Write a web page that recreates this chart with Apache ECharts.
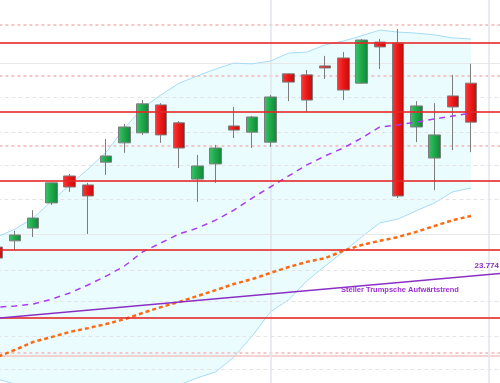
<!DOCTYPE html>
<html>
<head>
<meta charset="utf-8">
<script src="https://cdn.jsdelivr.net/npm/echarts@6/dist/echarts.min.js"></script>
<style>html,body{margin:0;padding:0;background:#fff;}#c{width:500px;height:383px;}</style>
</head>
<body>
<div id="c"></div>
<script>
// categories (j=0 lead-in day, 1..27 candles, 28..29 future)
var cats = [];
for (var k = 0; k < 30; k++) cats.push('T' + k);

// candles (index 1..27)
var opens  = ['-',23849,23867,23904,23977,24055,24029,24095,24151,24180,24261,24209,24046,24090,24200,24182,24153,24351,24348,24374,24397,24324,24443,24440,24197,24107,24287,24324,'-','-'];
var closes = ['-',23817,23884,23933,24035,24023,23997,24113,24197,24264,24174,24136,24084,24136,24188,24226,24284,24327,24275,24368,24304,24449,24429,23997,24258,24174,24255,24211,'-','-'];
var highs  = ['-',23860,23896,23956,24036,24061,24035,24162,24206,24275,24266,24214,24116,24145,24255,24229,24290,24353,24362,24403,24414,24452,24452,24481,24272,24266,24348,24380,'-','-'];
var lows   = ['-',23805,23840,23878,23971,24009,23887,24058,24122,24174,24151,24078,23980,24035,24165,24136,24139,24272,24240,24336,24275,24322,24365,23991,24153,24014,24130,24124,'-','-'];

// Bollinger bands and moving averages
var bbUpper = [23861,23878,23901,23933,23982,24029,24075,24124,24194,24252,24290,24324,24345,24365,24382,24380,24388,24411,24414,24435,24446,24461,24478,24472,24469,24464,24455,24452,'-','-'];
var bbMid   = [23667,23675,23678,23684,23698,23716,23739,23765,23794,23835,23861,23887,23904,23927,23956,23991,24023,24055,24087,24113,24136,24165,24197,24203,24211,24220,24229,24237,'-','-'];
var bbLower = [23472,23467,23452,23435,23417,23406,23403,23403,23397,23414,23432,23449,23470,23487,23530,23591,23661,23696,23751,23794,23835,23878,23919,23930,23954,23977,24009,24020,'-','-'];
var ma50    = [23513,23530,23551,23574,23588,23603,23614,23626,23640,23658,23675,23690,23707,23724,23742,23756,23774,23791,23806,23817,23838,23855,23867,23878,23893,23910,23927,23939,'-','-'];

// horizontal levels
var redLevels   = [24442,24241,24041,23840,23643];
var pinkDashed  = [24493,24345,24142,23543];
var pinkSolid   = [23533];
var grayLevels  = [24382,24283,24182,24087,23987,23887,23783,23691,23591,23495];
var graySolid   = [24382,23887];
var vLines      = [16,28];

// trend line
var trendStartIdx = 0, trendStartVal = 23638;
var trendEndIdx = 29, trendEndVal = 23774;
var trendName = 'Steiler Trumpsche Aufwärtstrend';
var trendValueLabel = '23.774';

var chart = echarts.init(document.getElementById('c'), null, {renderer:'canvas'});

var candleData = cats.map(function(c,i){
  if (opens[i] === '-') return '-';
  return [opens[i], closes[i], lows[i], highs[i]];
});
var bandDiff = cats.map(function(c,i){
  if (bbUpper[i] === '-') return '-';
  return bbUpper[i] - bbLower[i];
});

var backLines = [];
grayLevels.forEach(function(v){
  var solid = graySolid.indexOf(v) >= 0;
  backLines.push({yAxis: v, lineStyle:{color: solid ? '#e8e8e8' : '#e4e4e8', width:1, type: solid ? 'solid':[4,3]}});
});
pinkDashed.forEach(function(v){
  backLines.push({yAxis: v, lineStyle:{color:'#f5b5b5', width:1.5, type:[3,3]}});
});
pinkSolid.forEach(function(v){
  backLines.push({yAxis: v, lineStyle:{color:'#f3c4c4', width:1.5, type:'solid'}});
});
vLines.forEach(function(ix){
  backLines.push({xAxis: cats[ix], lineStyle:{color:'#e2e4ec', width:1.5, type:'solid'}});
});

var frontLines = [];
redLevels.forEach(function(v){
  frontLines.push({yAxis: v, lineStyle:{color:'rgba(230,40,40,0.8)', width:2, type:'solid'}});
});
frontLines.push([
  {coord:[cats[trendStartIdx], trendStartVal], lineStyle:{color:'#8a2fc4', width:1.5, type:'solid'}},
  {coord:[cats[trendEndIdx], trendEndVal]}
]);

var greenGrad = new echarts.graphic.LinearGradient(0,0,1,0,[{offset:0,color:'#3cc46a'},{offset:0.5,color:'#1fa84a'},{offset:1,color:'#10853a'}]);
var redGrad = new echarts.graphic.LinearGradient(0,0,1,0,[{offset:0,color:'#ff3a3a'},{offset:0.5,color:'#e81818'},{offset:1,color:'#c40a0a'}]);

var option = {
  animation: false,
  backgroundColor: '#ffffff',
  grid: {left: -30.6, right: -16.6, top: 0, bottom: 0, containLabel: false, outerBoundsMode: 'none'},
  xAxis: {type:'category', data: cats, boundaryGap: true, show: false},
  yAxis: {type:'value', min: 23455, max: 24565, show: false, splitLine:{show:false}},
  series: [
    {name:'bbLowerBase', type:'line', data: bbLower, stack:'bb', symbol:'none', z:1,
     lineStyle:{color:'#a6dcf6', width:1}},
    {name:'bbFill', type:'line', data: bandDiff, stack:'bb', symbol:'none', z:1,
     lineStyle:{width:0, opacity:0}, areaStyle:{color:'#ebfcff', opacity:1}},
    {name:'bbUpper', type:'line', data: bbUpper, symbol:'none', z:2,
     lineStyle:{color:'#a6dcf6', width:1},
     markLine:{silent:true, z:2, symbol:['none','none'], label:{show:false}, data: backLines}},
    {name:'Kurs', type:'candlestick', data: candleData, barWidth: 12, z:4,
     itemStyle:{color: greenGrad, color0: redGrad, borderColor:'#7d7d7d', borderColor0:'#7d7d7d', borderWidth:1}},
    {name:'bbMid', type:'line', data: bbMid, symbol:'none', z:6,
     lineStyle:{color:'#a93df0', width:1.5, type:[6,5]}},
    {name:'ma50', type:'line', data: ma50, symbol:'none', z:6,
     lineStyle:{color:'#ff6a10', width:2.5, type:[4,3]}},
    {name:'levels', type:'line', data: cats.map(function(){return '-';}), symbol:'none', z:8,
     markLine:{silent:true, z:8, symbol:['none','none'], label:{show:false}, data: frontLines}}
  ],
  graphic: [
    {type:'text', right: 1, top: 262, z: 10, style:{text: trendValueLabel, fill:'#8a2fc4', font:'bold 8px "Liberation Sans", Arial, sans-serif'}},
    {type:'text', left: 341, top: 286, z: 10, style:{text: trendName, fill:'#9a30d0', font:'bold 7.5px "Liberation Sans", Arial, sans-serif'}}
  ]
};
chart.setOption(option);
</script>
</body>
</html>
